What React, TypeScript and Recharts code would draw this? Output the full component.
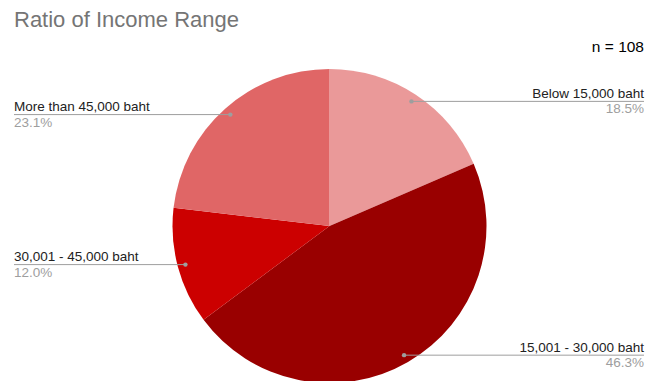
import React from "react";
import { PieChart, Pie, Cell } from "recharts";

const categories = [
  "Below 15,000 baht",
  "15,001 - 30,000 baht",
  "30,001 - 45,000 baht",
  "More than 45,000 baht",
];
const counts = [20, 50, 13, 25];
const colors = ["#ea9999", "#990000", "#cc0000", "#e06666"];

const total = counts.reduce((a, b) => a + b, 0);
const data = categories.map((name, i) => ({ name, value: counts[i] }));

const W = 648;
const H = 381;
const FONT = "'Liberation Sans', Arial, sans-serif";
const RAD = Math.PI / 180;

const renderLabel = (props: any) => {
  const { cx, cy, midAngle, outerRadius, index } = props;
  const r = outerRadius * 0.95;
  const x = cx + r * Math.cos(-midAngle * RAD);
  const y = cy + r * Math.sin(-midAngle * RAD);
  const right = x > cx;
  const edge = right ? 644 : 14;
  const pct = ((counts[index] / total) * 100).toFixed(1) + "%";
  return (
    <g key={"lbl-" + index}>
      <line x1={x} y1={y} x2={edge} y2={y} stroke="#9e9e9e" strokeWidth={1} />
      <circle cx={x} cy={y} r={2.2} fill="#9e9e9e" />
      <text
        x={edge}
        y={y - 3.5}
        textAnchor={right ? "end" : "start"}
        fontFamily={FONT}
        fontSize={13.5}
        fill="#222222"
      >
        {categories[index]}
      </text>
      <text
        x={edge}
        y={y + 12}
        textAnchor={right ? "end" : "start"}
        fontFamily={FONT}
        fontSize={13.5}
        fill="#9e9e9e"
      >
        {pct}
      </text>
    </g>
  );
};

export default function App() {
  return (
    <div style={{ position: "absolute", left: 0, top: 0, width: W, height: H, background: "#fff" }}>
      <PieChart width={W} height={H} margin={{ top: 0, right: 0, bottom: 0, left: 0 }}>
        <Pie
          data={data}
          dataKey="value"
          nameKey="name"
          cx={329.5}
          cy={226}
          outerRadius={157}
          startAngle={90}
          endAngle={-270}
          stroke="none"
          label={renderLabel}
          labelLine={false}
          isAnimationActive={false}
        >
          {data.map((d, i) => (
            <Cell key={d.name} fill={colors[i]} />
          ))}
        </Pie>
      </PieChart>
      <svg
        width={W}
        height={H}
        style={{ position: "absolute", left: 0, top: 0, pointerEvents: "none" }}
      >
        <text x={14} y={27} fontFamily={FONT} fontSize={22} fill="#757575">
          Ratio of Income Range
        </text>
        <text x={644} y={52} textAnchor="end" fontFamily={FONT} fontSize={15.5} fill="#000">
          n = {total}
        </text>
      </svg>
    </div>
  );
}
